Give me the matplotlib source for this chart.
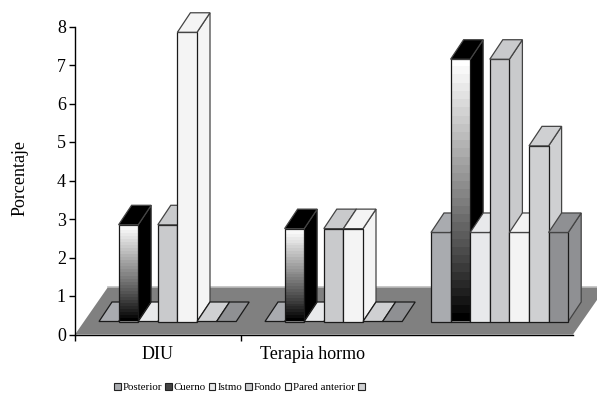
import numpy as np
import matplotlib
matplotlib.use("Agg")
import matplotlib.pyplot as plt
from matplotlib.patches import Polygon, Patch

categories = ["DIU", "Terapia hormo", ""]
series_names = ["Posterior", "Cuerno", "Istmo", "Fondo", "Pared anterior", "", ""]
posterior = [0, 0, 2.65]
cuerno = [2.85, 2.75, 7.15]
istmo = [0, 0, 2.65]
fondo = [2.85, 2.75, 7.15]
pared = [7.85, 2.75, 2.65]
serie6 = [0, 0, 4.9]
serie7 = [0, 0, 2.65]
series = [posterior, cuerno, istmo, fondo, pared, serie6, serie7]
colors = ["#a9abaf", None, "#e8e9eb", "#c9cacc", "#f4f4f4", "#cfd0d2", "#8f9093"]
yticks = list(range(9))

plt.rcParams["font.family"] = ["Liberation Serif", "DejaVu Serif"]
W, H = 597, 394
fig = plt.figure(figsize=(W / 100, H / 100), dpi=100)
fig.patch.set_facecolor("white")
ax = fig.add_axes([75 / W, 1 - 334.5 / H, (W - 75) / W, 334.5 / H])
px_x = 166.0
px_y = 38.5
xlim = (-0.5, -0.5 + (W - 75) / px_x)
ylim = (0, 334.5 / px_y)
ax.set_xlim(*xlim)
ax.set_ylim(*ylim)

dx = 13 / px_x
dy = 19.5 / px_y
bw = 19.6 / px_x
base = 13 / px_y
first_offset = (99.0 - 158) / px_x
EC = "#1a1a1a"
LW = 0.9

# floor
xr = 2.5
fl_top = 47.5 / px_y
fl_dx = 33 / px_x
ax.add_patch(Polygon([(-0.5, 0), (xr, 0), (xr + fl_dx, fl_top), (-0.5 + fl_dx, fl_top)],
                     closed=True, fc="#808080", ec="none", zorder=1))
ax.plot([-0.5 + fl_dx, xlim[1]], [fl_top, fl_top], color="#bdbdbd", lw=1.2, zorder=1.1)

grad = np.linspace(1, 0, 32).reshape(-1, 1) ** 0.9
z = 2.0
for gi in range(3):
    for si, s in enumerate(series):
        v = s[gi]
        x0 = gi + first_offset + si * bw
        x1 = x0 + bw
        c = colors[si]
        side = top = "black" if c is None else c
        if v <= 0:
            ax.add_patch(Polygon([(x0, base), (x1, base), (x1 + dx, base + dy), (x0 + dx, base + dy)],
                                 closed=True, fc=top, ec=EC, lw=LW, zorder=z))
            z += 0.01
            continue
        ax.add_patch(Polygon([(x1, base), (x1 + dx, base + dy), (x1 + dx, v + dy), (x1, v)],
                             closed=True, fc=side, ec="#444444", lw=LW, zorder=z))
        z += 0.01
        if c is None:
            ax.imshow(grad, extent=(x0, x1, base, v), cmap="gray", vmin=0, vmax=1,
                      aspect="auto", zorder=z, interpolation="nearest")
            ax.add_patch(Polygon([(x0, base), (x1, base), (x1, v), (x0, v)], closed=True,
                                 fc="none", ec=EC, lw=LW, zorder=z + 0.001))
        else:
            ax.add_patch(Polygon([(x0, base), (x1, base), (x1, v), (x0, v)], closed=True,
                                 fc=c, ec=EC, lw=LW, zorder=z))
        z += 0.01
        ax.add_patch(Polygon([(x0, v), (x1, v), (x1 + dx, v + dy), (x0 + dx, v + dy)], closed=True,
                             fc=top, ec="#444444", lw=LW, zorder=z))
        z += 0.01

ax.set_xlim(*xlim)
ax.set_ylim(*ylim)

for sp in ["top", "right"]:
    ax.spines[sp].set_visible(False)
ax.spines["left"].set_bounds(0, 8)
ax.spines["bottom"].set_bounds(-0.5, 2.5)
for sp in ["left", "bottom"]:
    ax.spines[sp].set_linewidth(1.0)
    ax.spines[sp].set_zorder(50)
ax.set_yticks(yticks)
ax.set_yticklabels([str(t) for t in yticks], fontsize=13)
ax.tick_params(axis="y", length=4.5, width=1.0, pad=2)
ax.set_xticks([-0.5, 0.5])
ax.set_xticklabels([])
ax.tick_params(axis="x", length=4.5, width=1.0)
ax.text(0, -0.53, categories[0], ha="center", va="center", fontsize=13, clip_on=False)
ax.text(0.93, -0.53, categories[1], ha="center", va="center", fontsize=13, clip_on=False)
fig.text(20.5 / W, 1 - 178 / H, "Porcentaje", rotation=90, ha="center", va="center", fontsize=13)

handles = [Patch(fc=c if c else "#444444", ec="#222222", lw=0.8, label=n)
           for c, n in zip(colors[:6], series_names[:6])]
fig.legend(handles=handles, loc="center left", bbox_to_anchor=(114 / W, 1 - 387.5 / H), ncol=6,
           frameon=False, fontsize=7.8, handlelength=0.6, handleheight=0.6, handletextpad=0.2,
           columnspacing=0.27, borderpad=0, borderaxespad=0)

fig.savefig("out.png", dpi=100)
